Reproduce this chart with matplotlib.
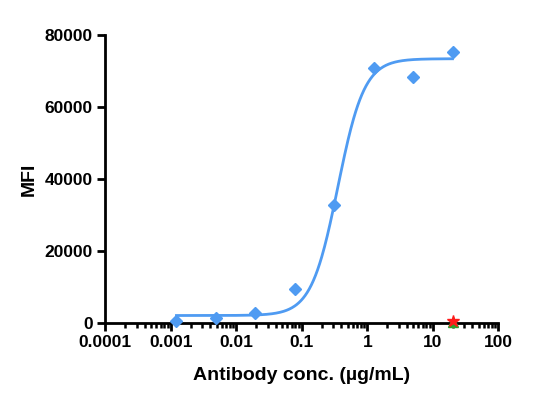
import numpy as np
import matplotlib
matplotlib.use("Agg")
import matplotlib.pyplot as plt
from matplotlib.ticker import LogLocator, NullFormatter

plt.rcParams['font.family'] = ['Liberation Sans', 'DejaVu Sans']

conc = [0.00122, 0.00488, 0.0195, 0.078, 0.3125, 1.25, 5, 20]
mfi = [550, 1300, 2700, 9300, 32700, 70700, 68400, 75400]
ctrl_conc = [20]
ctrl_red = [600]
ctrl_green = [150]

# 4PL fit parameters
fit_bottom = 2000
fit_top = 73400
fit_ec50 = 0.355
fit_hill = 2.15

xticks = [0.0001, 0.001, 0.01, 0.1, 1, 10, 100]
xticklabels = ['0.0001', '0.001', '0.01', '0.1', '1', '10', '100']
yticks = [0, 20000, 40000, 60000, 80000]

blue = '#4F9BF2'

fig = plt.figure(figsize=(5.54, 4.07), dpi=100)
ax = fig.add_axes([105.3/554, 1 - 322.7/407, (498.3-105.3)/554, (322.7-35)/407])

xf = np.logspace(np.log10(conc[0]), np.log10(conc[-1]), 400)
yf = fit_bottom + (fit_top - fit_bottom) / (1 + (fit_ec50 / xf) ** fit_hill)
ax.plot(xf, yf, color=blue, lw=2, zorder=3, clip_on=False)
ax.plot(conc, mfi, linestyle='none', marker='D', ms=6, color=blue, zorder=4, clip_on=False)
ax.plot(ctrl_conc, ctrl_green, linestyle='none', marker='^', ms=7, color='#2CA02C', zorder=5, clip_on=False)
ax.plot(ctrl_conc, ctrl_red, linestyle='none', marker='*', ms=9, color='#FF1A1A', zorder=6, clip_on=False)

ax.set_xscale('log')
ax.set_xlim(0.0001, 100)
ax.set_ylim(0, 80000)
ax.set_xticks(xticks)
ax.set_xticklabels(xticklabels)
ax.xaxis.set_minor_locator(LogLocator(base=10, subs=np.arange(2, 10), numticks=20))
ax.xaxis.set_minor_formatter(NullFormatter())
ax.set_yticks(yticks)
ax.set_yticklabels([str(v) for v in yticks])

for s in ['top', 'right']:
    ax.spines[s].set_visible(False)
for s in ['left', 'bottom']:
    ax.spines[s].set_linewidth(2)
ax.tick_params(axis='both', which='major', length=6, width=2, labelsize=12.5, pad=3)
ax.tick_params(axis='x', which='minor', length=3.5, width=1.8)
for lab in ax.get_xticklabels() + ax.get_yticklabels():
    lab.set_fontweight('bold')

ax.set_xlabel('Antibody conc. (µg/mL)', fontsize=14, fontweight='bold', labelpad=12)
ax.set_ylabel('MFI', fontsize=14, fontweight='bold', labelpad=5)

fig.savefig('out.png', dpi=100)
